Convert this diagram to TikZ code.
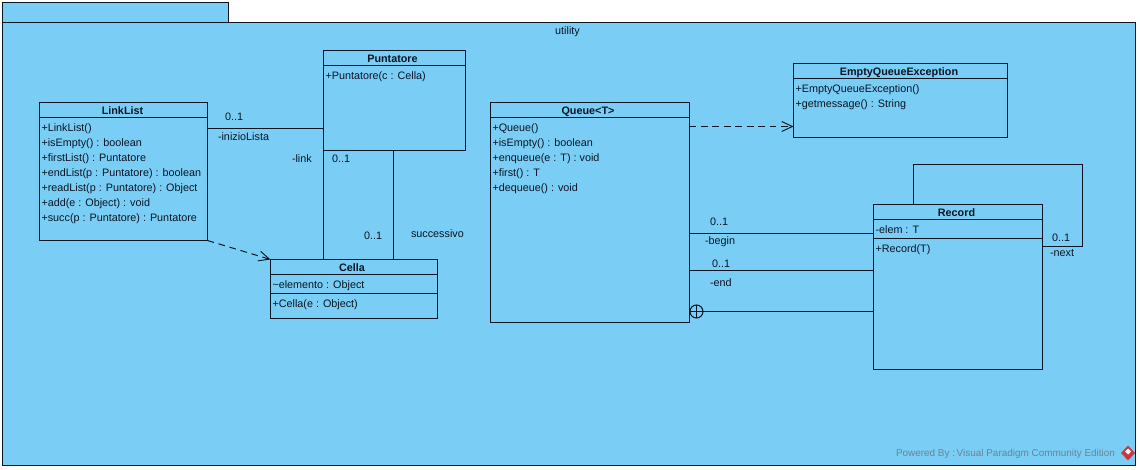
\documentclass[tikz,border=0pt]{standalone}
\usepackage{fontspec}
\setmainfont{Liberation Sans}
\usetikzlibrary{arrows.meta}
\definecolor{pkgblue}{RGB}{122,206,245}
\definecolor{ink}{RGB}{10,20,35}
\definecolor{wmgrey}{RGB}{105,130,150}
\definecolor{logored}{RGB}{205,55,60}
\tikzset{
  px/.style={x=0.75pt,y=-0.75pt},
  edge/.style={draw=ink,line width=0.8pt},
  conn/.style={draw=ink,line width=0.75pt},
  dep/.style={conn,dashed,dash pattern=on 5pt off 3.6pt,-{Straight Barb[length=8pt,width=9pt,line width=0.7pt,angle'=50]}},
  txt/.style={anchor=base west,inner sep=0pt,outer sep=0pt,yshift=-0.75pt,text=ink,font=\fontsize{8.1pt}{9pt}\selectfont},
  ttl/.style={anchor=base,inner sep=0pt,outer sep=0pt,yshift=-0.75pt,text=ink,font=\fontsize{8.1pt}{9pt}\selectfont\bfseries},
  wm/.style={anchor=base west,inner sep=0pt,outer sep=0pt,text=wmgrey,font=\fontsize{7.45pt}{9pt}\selectfont},
}
% name, x1, y1, x2, y2
\newcommand{\umlbox}[5]{%
  \pgfmathsetmacro{\bw}{(#4-#2)*0.75}%
  \pgfmathsetmacro{\bh}{(#5-#3)*0.75}%
  \node[edge,fill=pkgblue,anchor=north west,inner sep=0pt,outer sep=0pt,
        minimum width=\bw pt,minimum height=\bh pt] (#1) at (#2,#3) {};%
}
\begin{document}
\begin{tikzpicture}[px]
\useasboundingbox (0,0) rectangle (1140,470);
\fill[white] (0,0) rectangle (1140,470);
% package
\umlbox{tab}{2.5}{2.5}{228.5}{22.5}
\umlbox{pkg}{2.5}{22.5}{1135.5}{465.5}
\node[ttl,font=\fontsize{8.1pt}{9pt}\selectfont] (pkgname) at (567.5,34) {utility};
% boxes
\umlbox{linklist}{39.5}{102.5}{207.5}{240.5}
\umlbox{puntatore}{323.5}{50.5}{465.5}{150.5}
\umlbox{cella}{270.5}{259.5}{437.5}{318.5}
\umlbox{queue}{490.5}{102.5}{689.5}{322.5}
\umlbox{eqe}{793.5}{63.5}{1007.5}{137.5}
\umlbox{record}{873.5}{204.5}{1042.5}{369.5}
% compartment lines
\draw[edge] (linklist.west |- 0,117.5) -- (linklist.east |- 0,117.5);
\draw[edge] (puntatore.west |- 0,65.5) -- (puntatore.east |- 0,65.5);
\draw[edge] (cella.west |- 0,274.5) -- (cella.east |- 0,274.5);
\draw[edge] (cella.west |- 0,293.5) -- (cella.east |- 0,293.5);
\draw[edge] (queue.west |- 0,117.5) -- (queue.east |- 0,117.5);
\draw[edge] (eqe.west |- 0,78.5) -- (eqe.east |- 0,78.5);
\draw[edge] (record.west |- 0,219.5) -- (record.east |- 0,219.5);
\draw[edge] (record.west |- 0,238.5) -- (record.east |- 0,238.5);
% titles
\node[ttl] (t1) at (122.5,114) {LinkList};
\node[ttl] (t2) at (392.5,62) {Puntatore};
\node[ttl] (t3) at (352,271) {Cella};
\node[ttl] (t4) at (588,114) {Queue<T>};
\node[ttl] (t5) at (899,75) {EmptyQueueException};
\node[ttl] (t6) at (956.5,216) {Record};
% members
\node[txt] (m11) at (41.5,131) {+LinkList()};
\node[txt] (m12) at (41.5,146) {+isEmpty() : boolean};
\node[txt] (m13) at (41.5,161) {+firstList() : Puntatore};
\node[txt] (m14) at (41.5,176) {+endList(p : Puntatore) : boolean};
\node[txt] (m15) at (41.5,191) {+readList(p : Puntatore) : Object};
\node[txt] (m16) at (41.5,206) {+add(e : Object) : void};
\node[txt] (m17) at (41.5,221) {+succ(p : Puntatore) : Puntatore};
\node[txt] (m21) at (325.5,79) {+Puntatore(c : Cella)};
\node[txt] (m31) at (272.5,288) {\textasciitilde elemento : Object};
\node[txt] (m32) at (272.5,307) {+Cella(e : Object)};
\node[txt] (m41) at (492.5,131) {+Queue()};
\node[txt] (m42) at (492.5,146) {+isEmpty() : boolean};
\node[txt] (m43) at (492.5,161) {+enqueue(e : T) : void};
\node[txt] (m44) at (492.5,176) {+first() : T};
\node[txt] (m45) at (492.5,191) {+dequeue() : void};
\node[txt] (m51) at (795.5,92) {+EmptyQueueException()};
\node[txt] (m52) at (795.5,107) {+getmessage() : String};
\node[txt] (m61) at (875.5,233) {-elem : T};
\node[txt] (m62) at (875.5,252) {+Record(T)};
% connectors
\draw[conn] (linklist.east |- 0,128.5) -- (puntatore.west |- 0,128.5);
\draw[conn] (puntatore.south west) -- (puntatore.south west |- cella.north);
\coordinate (succx) at (393.5,200);
\draw[conn] (succx |- puntatore.south) -- (succx |- cella.north);
\draw[dep] (linklist.south east) -- (cella.north west);
\draw[dep] (queue.east |- 0,126.5) -- (eqe.west |- 0,126.5);
\draw[conn] (queue.east |- 0,233.5) -- (record.west |- 0,233.5);
\draw[conn] (queue.east |- 0,270.5) -- (record.west |- 0,270.5);
\coordinate (nest) at (696.5,311.5);
\draw[conn] (queue.east |- nest) ++(13,0) -- (record.west |- nest);
\draw[conn] (nest) circle[radius=6.5];
\draw[conn] (nest) ++(-6.5,0) -- ++(13,0);
\draw[conn] (nest) ++(0,-6.5) -- ++(0,13);
\coordinate (selfa) at (913.5,164.5);
\coordinate (selfb) at (1082.5,246.5);
\draw[conn] (selfa |- record.north) -- (selfa) -| (selfb) -- (record.east |- selfb);
% association labels
\node[txt] (l1) at (225,120) {0..1};
\node[txt] (l2) at (218,140) {-inizioLista};
\node[txt] (l3) at (292,162) {-link};
\node[txt] (l4) at (332,162) {0..1};
\node[txt] (l5) at (364,239) {0..1};
\node[txt] (l6) at (411,237) {successivo};
\node[txt] (l7) at (710,225) {0..1};
\node[txt] (l8) at (705,244) {-begin};
\node[txt] (l9) at (712,267) {0..1};
\node[txt] (l10) at (710,286) {-end};
\node[txt] (l11) at (1052,241) {0..1};
\node[txt] (l12) at (1050,256) {-next};
% watermark
\node[wm] (wm) at (896,457) {Powered By :\,Visual Paradigm Community Edition};
\fill[logored] (1128,445.5) -- (1135,453) -- (1128,460.5) -- (1121,453) -- cycle;
\fill[white!85!pkgblue] (1128,448.5) -- (1131,451.5) -- (1128,454.5) -- (1125,451.5) -- cycle;
\end{tikzpicture}
\end{document}
